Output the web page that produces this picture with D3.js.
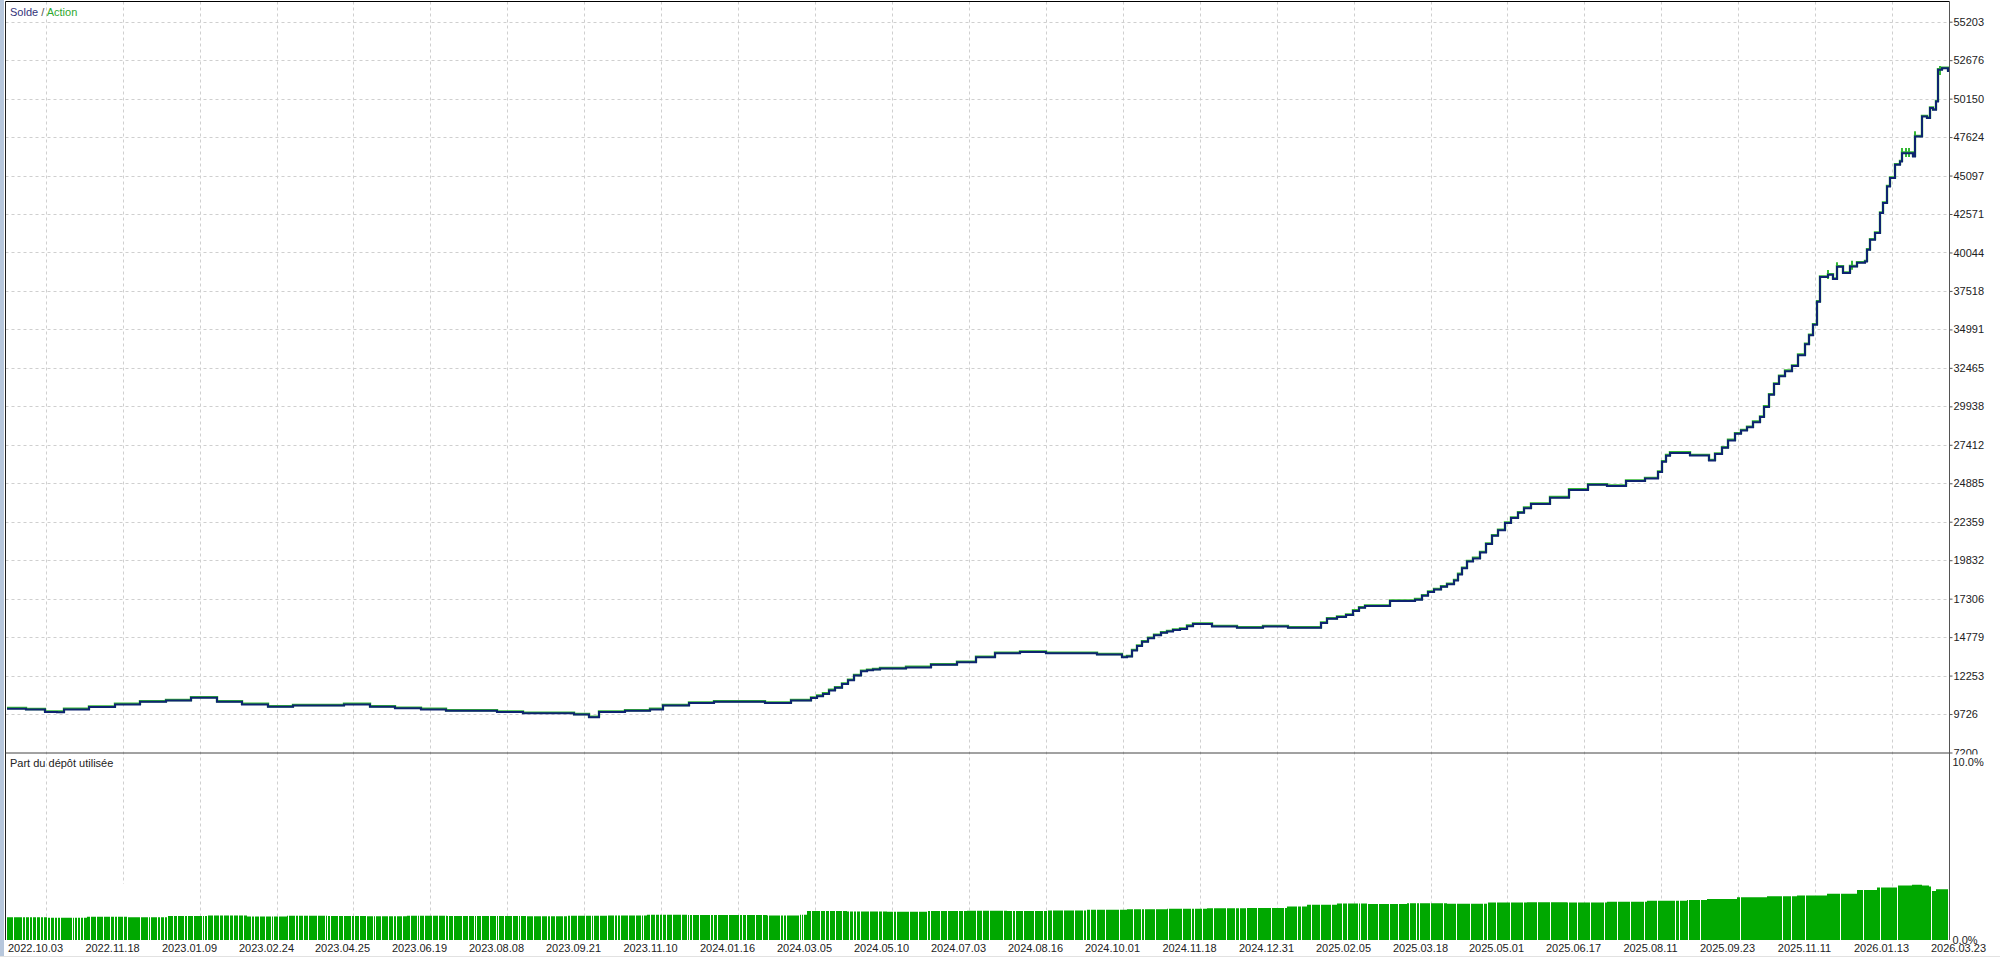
<!DOCTYPE html>
<html>
<head>
<meta charset="utf-8">
<script src="https://cdn.jsdelivr.net/npm/d3@7/dist/d3.min.js"></script>
<style>
html, body { margin: 0; padding: 0; background: #fff; overflow: hidden; }
svg { display: block; font-family: "Liberation Sans", Arial, sans-serif; }
</style>
</head>
<body>
<svg id="chart" width="2000" height="957"></svg>
<script>
// balance curve (deal number -> balance)
var deals = [0, 19, 38, 50, 57, 82, 108, 133, 159, 184, 210, 235, 261, 286, 312, 337, 363, 388, 414, 439,
    465, 490, 516, 541, 567, 582, 592, 618, 643, 656, 682, 707, 733, 758, 784, 804, 810, 816, 822, 828,
    835, 841, 847, 854, 860, 866, 873, 899, 924, 950, 969, 988, 1013, 1039, 1064, 1090, 1115, 1120, 1125, 1130,
    1135, 1141, 1147, 1154, 1160, 1166, 1173, 1180, 1186, 1205, 1230, 1256, 1281, 1307, 1314, 1320, 1330, 1339, 1346, 1352,
    1358, 1383, 1408, 1415, 1421, 1427, 1434, 1440, 1447, 1451, 1455, 1460, 1466, 1473, 1479, 1485, 1491, 1498, 1504, 1511,
    1517, 1524, 1543, 1562, 1581, 1600, 1619, 1638, 1651, 1655, 1659, 1663, 1683, 1702, 1708, 1715, 1721, 1728, 1734, 1740,
    1746, 1753, 1757, 1762, 1767, 1772, 1778, 1785, 1791, 1798, 1802, 1806, 1810, 1813, 1821, 1826, 1830, 1836, 1843, 1850,
    1858, 1860, 1863, 1868, 1873, 1876, 1880, 1883, 1888, 1893, 1895, 1903, 1906, 1908, 1915, 1920, 1923, 1926, 1929, 1931,
    1935, 1941];
var balance = [10080, 10020, 9860, 9850, 10030, 10190, 10360, 10530, 10610, 10800, 10530, 10360, 10200, 10280, 10280, 10360, 10200, 10110, 10030, 9940,
    9940, 9860, 9770, 9770, 9690, 9520, 9860, 9940, 10030, 10280, 10450, 10530, 10530, 10450, 10610, 10780, 10900, 11050, 11280, 11450,
    11700, 11950, 12250, 12540, 12600, 12650, 12710, 12790, 12960, 13130, 13460, 13720, 13800, 13720, 13720, 13630, 13460, 13500, 13900, 14200,
    14470, 14700, 14900, 15060, 15150, 15250, 15310, 15500, 15640, 15480, 15390, 15480, 15390, 15390, 15700, 15980, 16100, 16230, 16500, 16700,
    16820, 17150, 17240, 17500, 17740, 17900, 18080, 18250, 18500, 18900, 19300, 19750, 19950, 20340, 20900, 21430, 21800, 22270, 22600, 22940,
    23250, 23520, 23940, 24450, 24780, 24700, 25030, 25200, 25620, 26300, 26700, 26880, 26710, 26380, 26800, 27210, 27700, 28140, 28350, 28560,
    28900, 29230, 29900, 30700, 31400, 31910, 32250, 32580, 33300, 34010, 34600, 35300, 36800, 38430, 38580, 38300, 39100, 38700, 39120, 39370,
    39450, 40220, 40880, 41320, 42630, 43290, 44380, 44930, 45810, 46020, 46570, 46570, 46350, 47660, 48980, 48870, 49530, 49420, 49960, 52050,
    52150, 51900];

// equity peaks showing above the balance
var spikeDeals = [1821, 1830, 1845, 1895, 1899, 1902, 1908, 1933];
var spikeEquity = [38900, 39400, 39500, 46900, 46900, 46900, 48000, 52300];

var balanceTicks = [7200, 9726, 12253, 14779, 17306, 19832, 22359, 24885, 27412, 29938,
    32465, 34991, 37518, 40044, 42571, 45097, 47624, 50150, 52676, 55203];

var dateDeals = [39, 116, 193, 270, 346, 423, 500, 577, 654, 731, 808, 885, 962, 1039, 1116, 1193, 1270,
    1347, 1424, 1500, 1577, 1654, 1731, 1808, 1885, 1962];
var dateLabels = ["2022.10.03", "2022.11.18", "2023.01.09", "2023.02.24", "2023.04.25", "2023.06.19", "2023.08.08",
    "2023.09.21", "2023.11.10", "2024.01.16", "2024.03.05", "2024.05.10", "2024.07.03", "2024.08.16", "2024.10.01",
    "2024.11.18", "2024.12.31", "2025.02.05", "2025.03.18", "2025.05.01", "2025.06.17", "2025.08.11", "2025.09.23",
    "2025.11.11", "2026.01.13", "2026.03.23"];

// deposit load (%)
var loadDeals = [0, 40, 80, 120, 160, 200, 240, 280, 320, 360, 400, 440, 480, 520, 560, 600, 640, 680, 720, 760,
    793, 800, 840, 880, 920, 960, 1000, 1040, 1080, 1120, 1160, 1200, 1240, 1280, 1300, 1330, 1360, 1400, 1440, 1480,
    1520, 1560, 1600, 1640, 1680, 1700, 1730, 1760, 1790, 1820, 1850, 1870, 1890, 1905, 1915, 1922, 1925, 1929, 1941];
var loadPct = [1.28, 1.25, 1.30, 1.28, 1.35, 1.38, 1.32, 1.36, 1.34, 1.33, 1.36, 1.34, 1.35, 1.33, 1.36, 1.38, 1.42, 1.40, 1.40, 1.38,
    1.42, 1.62, 1.60, 1.58, 1.62, 1.64, 1.62, 1.66, 1.70, 1.72, 1.75, 1.78, 1.80, 1.88, 1.98, 2.05, 2.02, 2.06, 2.04, 2.10,
    2.12, 2.10, 2.15, 2.20, 2.25, 2.30, 2.40, 2.45, 2.50, 2.60, 2.80, 2.95, 3.05, 3.10, 3.05, 3.00, 2.75, 2.85, 2.90];
var loadTicks = [0, 10];
// deals with no open position (white gaps)
var idleDeals = [6, 15, 18, 22, 25, 29, 33, 36, 40, 43, 47, 50, 53, 65, 67, 70, 73, 76, 83, 89, 96, 103, 107, 110, 116, 120,
    133, 141, 143, 150, 153, 157, 160, 166, 170, 177, 180, 186, 195, 197, 200, 206, 212, 216, 222, 226, 231, 236,
    244, 247, 252, 258, 264, 266, 271, 281, 288, 291, 296, 301, 310, 318, 320, 323, 331, 336, 344, 347, 352, 359, 366, 368,
    374, 381, 386, 389, 395, 403, 410, 412, 417, 425, 431, 438, 441, 446, 455, 461, 467, 469, 474, 482, 489, 491, 497, 505,
    511, 513, 519, 526, 534, 540, 543, 548, 556, 560, 563, 570, 578, 584, 586, 592, 600, 607, 610, 613, 621, 628, 634, 636, 643,
    648, 652, 655, 659, 665, 674, 680, 682, 685, 692, 703, 706, 710, 721, 732, 735, 739, 748, 755, 761, 773, 776, 779, 792,
    794, 796, 804, 813, 818, 822, 828, 835, 842, 846, 849, 853, 862, 871, 875, 886, 889, 902, 911, 920, 923, 933, 940, 951,
    956, 969, 975, 982, 996, 1005, 1008, 1016, 1027, 1036, 1040, 1045, 1056, 1067, 1076, 1079, 1083, 1089, 1098, 1112, 1126,
    1134, 1137, 1148, 1161, 1175, 1184, 1187, 1195, 1206, 1219, 1228, 1232, 1239, 1250, 1264, 1277, 1290, 1294, 1304, 1313,
    1324, 1335, 1340, 1351, 1353, 1360, 1371, 1382, 1391, 1402, 1409, 1412, 1423, 1436, 1449, 1463, 1476, 1480, 1489, 1503,
    1516, 1530, 1543, 1561, 1570, 1583, 1597, 1610, 1623, 1637, 1650, 1668, 1672, 1681, 1693, 1733, 1775, 1784, 1798, 1833,
    1856, 1873, 1890, 1924];

var svg = d3.select("#chart"),
    width = +svg.attr("width"),
    height = +svg.attr("height");

var left = 5.5, right = 1949.5, topY = 1.5, split = 753, base = 940;

var x = d3.scaleLinear().domain([0, 1941]).range([7, 1948]);
var y = d3.scaleLinear().domain([7200, 55203]).range([752.5, 21.7]);
var yLoad = d3.scaleLinear().domain([0, 10]).range([base, 761.7]);

// window edge on the left
svg.append("rect").attr("x", 0).attr("y", 0).attr("width", 4).attr("height", height).attr("fill", "#b7c7dc");
svg.append("line").attr("x1", 0).attr("x2", width).attr("y1", 956.5).attr("y2", 956.5).attr("stroke", "#e2e2e2");

var defs = svg.append("defs");
defs.append("clipPath").attr("id", "upperAxis")
    .append("rect").attr("x", right).attr("y", 0).attr("width", 60).attr("height", split + 1.5);
defs.append("clipPath").attr("id", "plot")
    .append("rect").attr("x", left).attr("y", topY).attr("width", right - left).attr("height", base - topY);

// grid
var grid = svg.append("g").attr("stroke", "#cfcfcf").attr("stroke-dasharray", "3,3").attr("stroke-width", 1);
grid.selectAll("line.h")
    .data(balanceTicks.slice(1))
    .enter().append("line")
    .attr("class", "h")
    .attr("x1", left).attr("x2", right)
    .attr("y1", d => Math.round(y(d)) + 0.5).attr("y2", d => Math.round(y(d)) + 0.5);
grid.selectAll("line.v")
    .data(dateDeals.filter(d => x(d) < right))
    .enter().append("line")
    .attr("class", "v")
    .attr("x1", d => Math.round(x(d)) + 0.5).attr("x2", d => Math.round(x(d)) + 0.5)
    .attr("y1", topY).attr("y2", base);

// deposit load bars
var area = d3.area()
    .x((d, i) => x(loadDeals[i]))
    .y0(base)
    .y1(d => yLoad(d))
    .curve(d3.curveStepAfter);
svg.append("path")
    .datum(loadPct)
    .attr("d", area)
    .attr("fill", "#00a800");
svg.append("g").attr("shape-rendering", "crispEdges").selectAll("line")
    .data(idleDeals)
    .enter().append("line")
    .attr("x1", d => Math.round(x(d)) + 0.5).attr("x2", d => Math.round(x(d)) + 0.5)
    .attr("y1", yLoad(d3.max(loadPct)) - 1).attr("y2", base)
    .attr("stroke", "#fff")
    .attr("stroke-width", 1);

// equity + balance
var plot = svg.append("g").attr("clip-path", "url(#plot)");
plot.append("g").selectAll("line")
    .data(spikeDeals)
    .enter().append("line")
    .attr("x1", d => x(d)).attr("x2", d => x(d))
    .attr("y1", (d, i) => y(spikeEquity[i]))
    .attr("y2", (d, i) => y(spikeEquity[i]) + 9)
    .attr("stroke", "#35b835")
    .attr("stroke-width", 2);
var line = d3.line()
    .x((d, i) => x(deals[i]))
    .y(d => y(d))
    .curve(d3.curveStepAfter);
plot.append("path")
    .datum(balance)
    .attr("d", line)
    .attr("fill", "none")
    .attr("stroke", "#35b835")
    .attr("stroke-width", 2.4)
    .attr("transform", "translate(0,-0.6)");
plot.append("path")
    .datum(balance)
    .attr("d", line)
    .attr("fill", "none")
    .attr("stroke", "#0e2470")
    .attr("stroke-width", 2);

// frame
svg.append("line").attr("x1", left).attr("x2", right).attr("y1", topY).attr("y2", topY).attr("stroke", "#000");
svg.append("line").attr("x1", left).attr("x2", left).attr("y1", topY).attr("y2", base).attr("stroke", "#222");
svg.append("line").attr("x1", left).attr("x2", right).attr("y1", split).attr("y2", split).attr("stroke", "#444");
svg.append("line").attr("x1", right).attr("x2", right).attr("y1", topY).attr("y2", base).attr("stroke", "#555");

// right axes (clip group sits outside the translated axis)
var yAxis = svg.append("g")
    .attr("clip-path", "url(#upperAxis)")
    .append("g")
    .attr("transform", "translate(" + right + ",0)")
    .call(d3.axisRight(y).tickValues(balanceTicks).tickSize(3).tickPadding(1).tickFormat(d3.format("d")));
var loadAxis = svg.append("g")
    .attr("transform", "translate(" + right + ",0)")
    .call(d3.axisRight(yLoad).tickValues(loadTicks).tickSize(0).tickPadding(3).tickFormat(d => d3.format(".1f")(d) + "%"));
[yAxis, loadAxis].forEach(function(a){
    a.select(".domain").remove();
    a.selectAll("line").attr("stroke", "#555");
    a.selectAll("text").attr("font-size", 11).attr("fill", "#222").attr("font-family", "Liberation Sans, Arial, sans-serif");
});

// date labels
svg.append("g").selectAll("text")
    .data(dateDeals)
    .enter().append("text")
    .attr("x", d => x(d) - 10.5)
    .attr("y", 952)
    .attr("text-anchor", "middle")
    .attr("font-size", 11)
    .attr("fill", "#222")
    .text((d, i) => dateLabels[i]);

// titles
var legend = svg.append("text").attr("x", 10).attr("y", 15.5).attr("font-size", 11);
legend.append("tspan").attr("fill", "#33337a").text("Solde");
legend.append("tspan").attr("fill", "#555").text(" / ");
legend.append("tspan").attr("fill", "#2ea82e").text("Action");
svg.append("text").attr("x", 10).attr("y", 767).attr("font-size", 11).attr("fill", "#222").text("Part du dépôt utilisée");
</script>
</body>
</html>
